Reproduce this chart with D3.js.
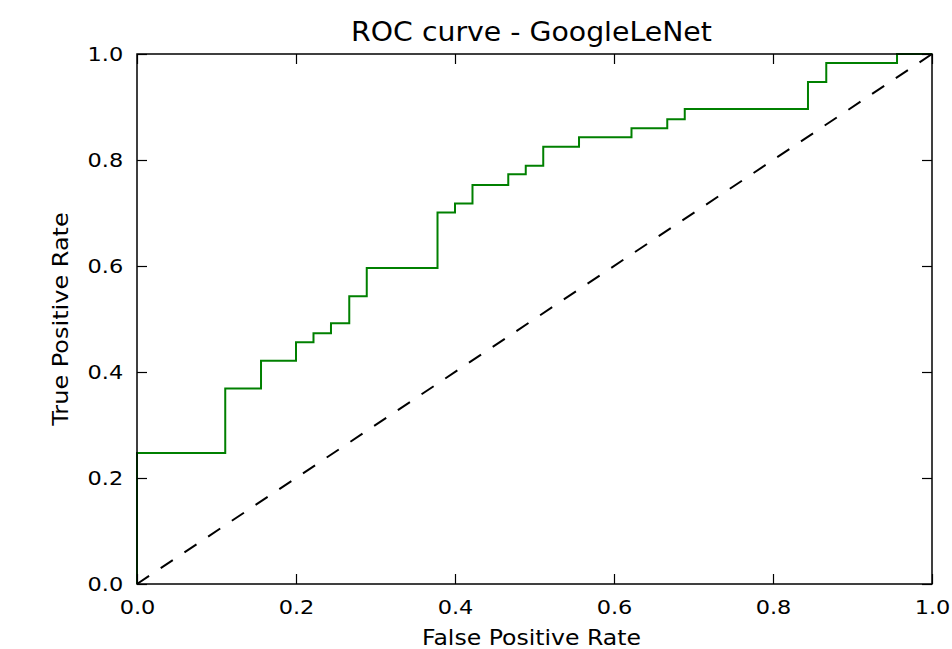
<!DOCTYPE html>
<html>
<head>
<meta charset="utf-8">
<script src="https://cdn.jsdelivr.net/npm/d3@7"></script>
<style>
  body { margin: 0; background: #fff; }
  text { font-family: "DejaVu Sans", sans-serif; fill: #000; }
</style>
</head>
<body>
<svg id="roc" width="952" height="649"></svg>
<script>
// ROC step points (false positive rate / true positive rate)
var fpr = [0, 0, 0.111, 0.111, 0.156, 0.156, 0.200, 0.200, 0.222, 0.222, 0.244, 0.244,
  0.267, 0.267, 0.289, 0.289, 0.378, 0.378, 0.400, 0.400, 0.422, 0.422, 0.467, 0.467,
  0.489, 0.489, 0.511, 0.511, 0.556, 0.556, 0.622, 0.622, 0.667, 0.667, 0.689, 0.689,
  0.844, 0.844, 0.867, 0.867, 0.956, 0.956, 1.0];
var tpr = [0, 0.247, 0.247, 0.369, 0.369, 0.421, 0.421, 0.456, 0.456, 0.473, 0.473, 0.492,
  0.492, 0.543, 0.543, 0.596, 0.596, 0.701, 0.701, 0.718, 0.718, 0.753, 0.753, 0.773,
  0.773, 0.789, 0.789, 0.825, 0.825, 0.843, 0.843, 0.860, 0.860, 0.877, 0.877, 0.896,
  0.896, 0.947, 0.947, 0.983, 0.983, 1.0, 1.0];
var chance = [0, 1];
var tickValues = [0, 0.2, 0.4, 0.6, 0.8, 1.0];

var svg = d3.select('#roc');
var margin = { top: 54, right: 20, bottom: 65, left: 137 };
var width = +svg.attr('width') - margin.left - margin.right;
var height = +svg.attr('height') - margin.top - margin.bottom;

var x = d3.scaleLinear().domain([0, 1]).range([0, width]);
var y = d3.scaleLinear().domain([0, 1]).range([height, 0]);

var g = svg.append('g').attr('transform', 'translate(' + margin.left + ',' + margin.top + ')');

var line = d3.line()
  .x(function(d) { return x(d[0]); })
  .y(function(d) { return y(d[1]); });

// chance diagonal
g.append('path')
  .datum(chance.map(function(v) { return [v, v]; }))
  .attr('d', line)
  .attr('fill', 'none')
  .attr('stroke', '#000')
  .attr('stroke-width', 2)
  .attr('stroke-dasharray', '14.5,14');

// roc curve
g.append('path')
  .datum(fpr.map(function(v, i) { return [v, tpr[i]]; }))
  .attr('d', line)
  .attr('fill', 'none')
  .attr('stroke', '#008000')
  .attr('stroke-width', 2);

var fmt = d3.format('.1f');

function styleAxis(sel) {
  sel.select('.domain').remove();
  sel.selectAll('.tick line').attr('stroke', '#000').attr('stroke-width', 1.2);
  sel.selectAll('text').style('font-size', '19.5px');
}

// bottom / left with labels, top / right ticks only (all pointing in)
g.append('g')
  .attr('transform', 'translate(0,' + height + ')')
  .call(d3.axisBottom(x).tickValues(tickValues).tickFormat(fmt).tickSizeInner(-10).tickPadding(16))
  .call(styleAxis)
  .selectAll('text').attr('transform', 'scale(1.15,1)');

g.append('g')
  .call(d3.axisLeft(y).tickValues(tickValues).tickFormat(fmt).tickSizeInner(-10).tickPadding(12))
  .call(styleAxis)
  .selectAll('text').attr('x', -12).attr('transform', 'scale(1.15,1)');

g.append('g')
  .call(d3.axisTop(x).tickValues(tickValues).tickFormat('').tickSizeInner(-10))
  .call(styleAxis);

g.append('g')
  .attr('transform', 'translate(' + width + ',0)')
  .call(d3.axisRight(y).tickValues(tickValues).tickFormat('').tickSizeInner(-10))
  .call(styleAxis);

// frame
g.append('rect')
  .attr('width', width)
  .attr('height', height)
  .attr('fill', 'none')
  .attr('stroke', '#000')
  .attr('stroke-width', 1.5);

// title and axis labels
svg.append('text')
  .attr('transform', 'translate(' + (margin.left + width / 2 - 3) + ',41) scale(1.09,1)')
  .attr('text-anchor', 'middle')
  .style('font-size', '26px')
  .text('ROC curve - GoogleLeNet');

svg.append('text')
  .attr('transform', 'translate(' + (margin.left + width / 2 - 3) + ',645) scale(1.15,1)')
  .attr('text-anchor', 'middle')
  .style('font-size', '20.5px')
  .text('False Positive Rate');

svg.append('text')
  .attr('transform', 'translate(68,' + (margin.top + height / 2) + ') rotate(-90) scale(1.17,1)')
  .attr('text-anchor', 'middle')
  .style('font-size', '20.5px')
  .text('True Positive Rate');
</script>
</body>
</html>
